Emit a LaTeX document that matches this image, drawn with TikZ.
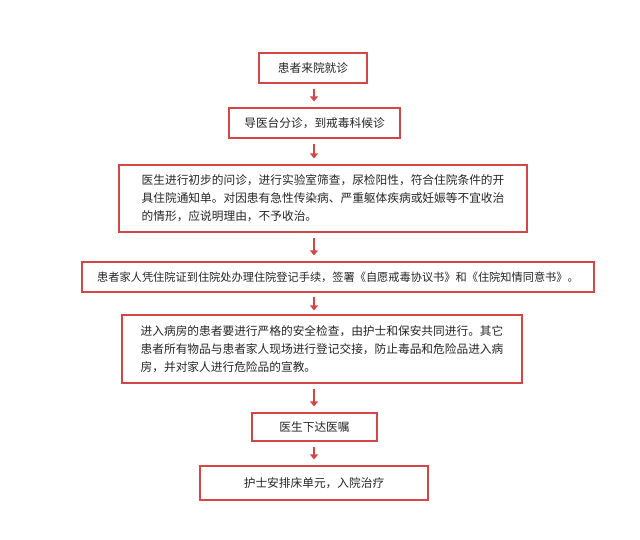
\documentclass[tikz,border=0pt]{standalone}
\usepackage{fontspec}
\setmainfont{Noto Sans CJK SC}
\usetikzlibrary{arrows.meta}
\definecolor{bred}{HTML}{D64545}
\tikzset{
 box/.style={draw=bred,line width=1.2pt,fill=white,inner sep=4pt,font=\fontsize{11.7}{18}\selectfont,text=black!85},
 arr/.style={draw=bred,line width=2.2pt,-{Triangle[length=5pt,width=8pt]},shorten <=5pt,shorten >=6pt}
}
\begin{document}
\begin{tikzpicture}[x=1pt,y=-1pt]
\useasboundingbox (0,0) rectangle (640,540);
\node[box,minimum width=108,minimum height=30] (a) at (313,68) {患者来院就诊};
\node[box,minimum width=171,minimum height=30] (b) at (314.5,123) {导医台分诊，到戒毒科候诊};
\node[box,minimum width=408,minimum height=67,align=left] (c) at (323,198.5) {医生进行初步的问诊，进行实验室筛查，尿检阳性，符合住院条件的开\\具住院通知单。对因患有急性传染病、严重躯体疾病或妊娠等不宜收治\\的情形，应说明理由，不予收治。};
\node[box,minimum width=512,minimum height=30,font=\fontsize{11.2}{18}\selectfont,inner sep=2pt] (d) at (338,277) {患者家人凭住院证到住院处办理住院登记手续，签署《自愿戒毒协议书》和《住院知情同意书》。};
\node[box,minimum width=400,minimum height=68,align=left] (e) at (322,349) {进入病房的患者要进行严格的安全检查，由护士和保安共同进行。其它\\患者所有物品与患者家人现场进行登记交接，防止毒品和危险品进入病\\房，并对家人进行危险品的宣教。};
\node[box,minimum width=125,minimum height=28] (f) at (314.5,427) {医生下达医嘱};
\node[box,minimum width=228,minimum height=34] (g) at (314,483) {护士安排床单元，入院治疗};
\draw[arr] (a.south -| 314,0) -- (b.north -| 314,0);
\draw[arr] (b.south -| 314,0) -- (c.north -| 314,0);
\draw[arr] (c.south -| 314,0) -- (d.north -| 314,0);
\draw[arr,shorten <=4pt,shorten >=4pt] (d.south -| 314,0) -- (e.north -| 314,0);
\draw[arr] (e.south -| 314,0) -- (f.north -| 314,0);
\draw[arr] (f.south -| 314,0) -- (g.north -| 314,0);
\end{tikzpicture}
\end{document}
